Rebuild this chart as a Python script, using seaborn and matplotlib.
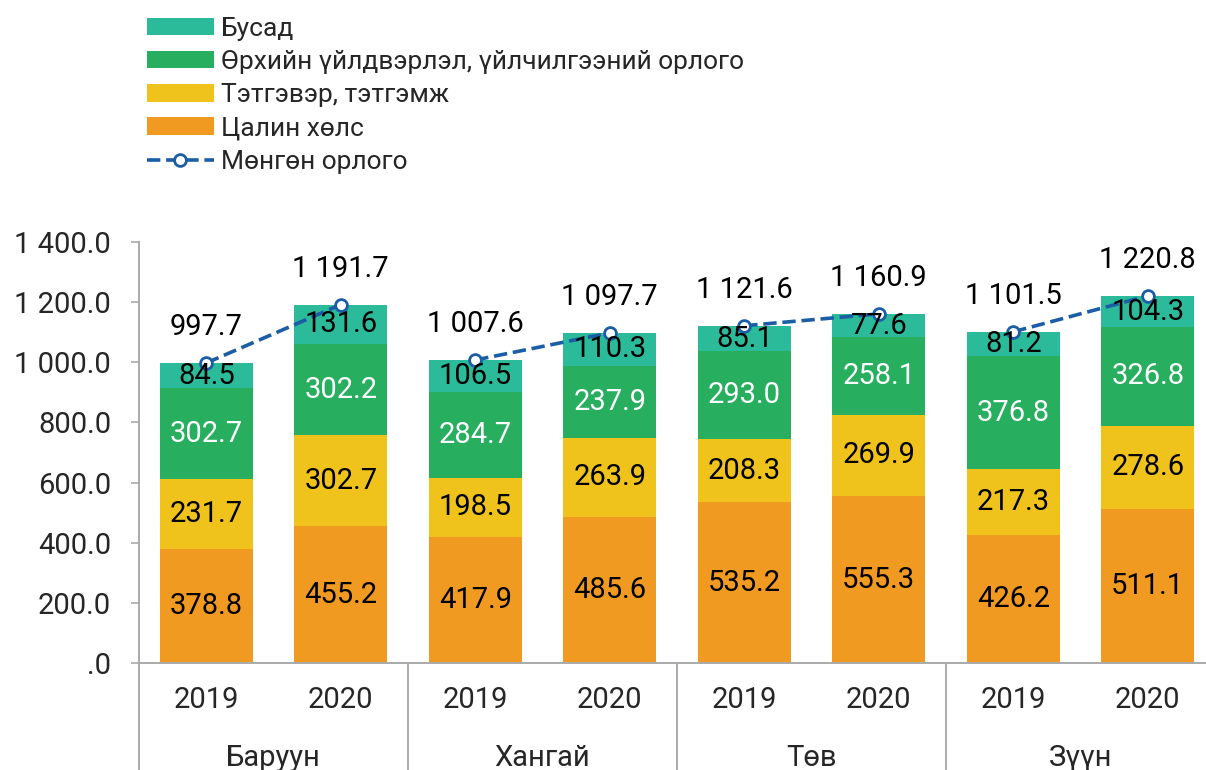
import numpy as np
import pandas as pd
import matplotlib
matplotlib.use("Agg")
import matplotlib.pyplot as plt
import seaborn as sns
from matplotlib.patches import Patch
from matplotlib.lines import Line2D
from matplotlib.ticker import FuncFormatter

# data
regions = ["Баруун", "Хангай", "Төв", "Зүүн"]
years = ["2019", "2020"]
salary = [378.8, 455.2, 417.9, 485.6, 535.2, 555.3, 426.2, 511.1]
pension = [231.7, 302.7, 198.5, 263.9, 208.3, 269.9, 217.3, 278.6]
household = [302.7, 302.2, 284.7, 237.9, 293.0, 258.1, 376.8, 326.8]
other = [84.5, 131.6, 106.5, 110.3, 85.1, 77.6, 81.2, 104.3]
total = [997.7, 1191.7, 1007.6, 1097.7, 1121.6, 1160.9, 1101.5, 1220.8]

names = ["Бусад", "Өрхийн үйлдвэрлэл, үйлчилгээний орлого",
         "Тэтгэвэр, тэтгэмж", "Цалин хөлс"]
line_name = "Мөнгөн орлого"
colors = ["#2bba9a", "#27ae5e", "#f0c31c", "#f09a22"]
line_color = "#1b5ea6"

sns.set_style("white")
plt.rcParams['font.family'] = ['Roboto', 'DejaVu Sans']

cats = [f"{r} {y}" for r in regions for y in years]
df = pd.DataFrame({"cat": cats, "salary": salary, "pension": pension,
                   "household": household, "other": other, "total": total})
df["region"] = [r for r in regions for y in years]
df["pos"] = np.arange(len(cats))
df["c1"] = df["salary"]
df["c2"] = df["c1"] + df["pension"]
df["c3"] = df["c2"] + df["household"]
df["c4"] = df["c3"] + df["other"]

fig = plt.figure(figsize=(12.06, 7.70), dpi=100)
ax = fig.add_axes([139 / 1206, 1 - 663 / 770, 1076 / 1206, 421 / 770])

# stacked bars drawn from the top layer down
for col, c in zip(["c4", "c3", "c2", "c1"], colors):
    sns.barplot(data=df, x="cat", y=col, order=cats, color=c, width=0.69,
                saturation=1, edgecolor="none", linewidth=0, ax=ax)

fs = 21
x = np.arange(len(cats))
segs = [("salary", "c1", "black"), ("pension", "c2", "black"),
        ("household", "c3", "white"), ("other", "c4", "black")]
for key, top, tc in segs:
    for i in x:
        v = df[key][i]
        mid = df[top][i] - v / 2
        ax.text(i, mid, f"{v:.1f}", ha="center", va="center", fontsize=fs, color=tc)

# total income line, one segment per region
for r in regions:
    sub = df[df["region"] == r]
    sns.lineplot(data=sub, x="pos", y="total", ax=ax, color=line_color,
                 linestyle="--", linewidth=2.6, marker="o", markersize=8.5,
                 markerfacecolor="white", markeredgecolor=line_color,
                 markeredgewidth=2)


def fmt_num(v):
    return f"{v:,.1f}".replace(",", " ")


for i, t in zip(x, total):
    ax.annotate(fmt_num(t), (i, t), xytext=(0, 26), textcoords="offset points",
                ha="center", va="center", fontsize=fs, color="black")

ax.set_xlim(-0.5, len(cats) - 0.5)
ax.set_ylim(0, 1400)
ax.set_yticks(np.arange(0, 1401, 200))
ax.yaxis.set_major_formatter(FuncFormatter(
    lambda v, p: ".0" if v == 0 else fmt_num(v)))
ax.tick_params(axis="y", labelsize=fs, length=6, width=1.2, color="#aaaaaa",
               pad=14, left=True)
ax.set_xticks([])
ax.set_xlabel("")
ax.set_ylabel("")
for s in ["top", "right"]:
    ax.spines[s].set_visible(False)
for s in ["left", "bottom"]:
    ax.spines[s].set_color("#aaaaaa")
    ax.spines[s].set_linewidth(1.4)

# two level category axis
trans = ax.get_xaxis_transform()
for i in x:
    ax.text(i, -0.088, years[i % 2], transform=trans, ha="center", va="center",
            fontsize=fs)
for g, r in enumerate(regions):
    ax.text(2 * g + 0.5, -0.225, r, transform=trans, ha="center", va="center",
            fontsize=fs)
for g in range(len(regions) + 1):
    ax.add_line(Line2D([2 * g - 0.5, 2 * g - 0.5], [0, -0.3], transform=trans,
                       color="#aaaaaa", linewidth=1.4, clip_on=False))

handles = [Patch(facecolor=c, edgecolor="none") for c in colors]
handles.append(Line2D([], [], color=line_color, linestyle="--", linewidth=2.6,
                      marker="o", markersize=8.5, markerfacecolor="white",
                      markeredgecolor=line_color, markeredgewidth=2))
fig.legend(handles, names + [line_name], loc="upper left",
           bbox_to_anchor=(131 / 1206, 0.999), frameon=False, fontsize=19,
           handlelength=2.55, handleheight=0.65, labelspacing=0.35,
           handletextpad=0.26, borderaxespad=0.2)

fig.savefig("out.png", dpi=100)
